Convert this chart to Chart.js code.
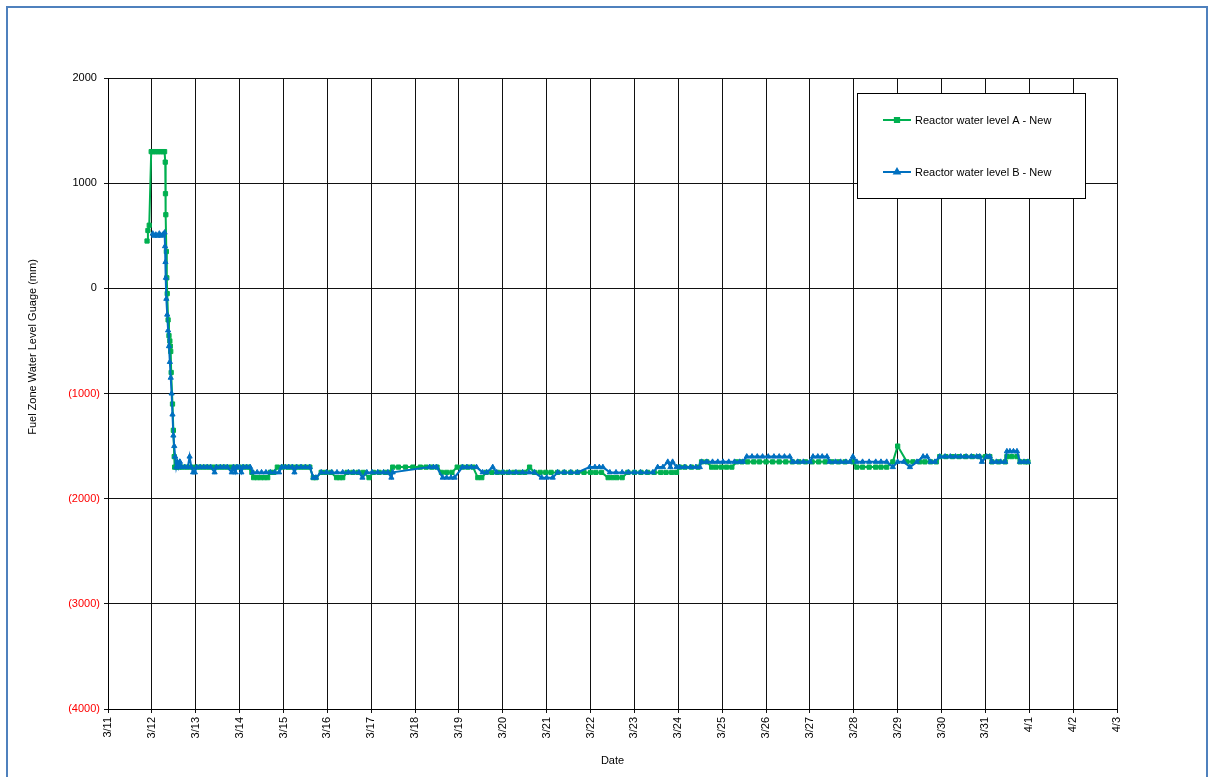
<!DOCTYPE html>
<html>
<head>
<meta charset="utf-8">
<title>Reactor water level</title>
<script src="https://cdn.jsdelivr.net/npm/chart.js@4.4.1/dist/chart.umd.min.js"></script>
<style>
  html, body { margin: 0; padding: 0; background: #fff; overflow: hidden; }
  #wrap { position: relative; width: 1209px; height: 777px; }
  #frame { position: absolute; left: 6px; top: 6px; width: 1198px; height: 820px;
           border: 2px solid #4f81bd; pointer-events: none; }
  canvas { position: absolute; left: 0; top: 0; }
</style>
</head>
<body>
<div id="wrap">
  <canvas id="c" width="1209" height="777"></canvas>
  <div id="frame"></div>
</div>
<script>
// Time is measured in days since 3/11 00:00.
const xTickLabels = ['3/11','3/12','3/13','3/14','3/15','3/16','3/17','3/18','3/19','3/20',
  '3/21','3/22','3/23','3/24','3/25','3/26','3/27','3/28','3/29','3/30','3/31','4/1','4/2','4/3'];
const yTickLabels = ['(4000)','(3000)','(2000)','(1000)','0 ','1000 ','2000 '];

const seriesNames = ['Reactor water level A - New', 'Reactor water level B - New'];

const timesA = [
  0.89, 0.91, 0.94, 0.985, 1.02, 1.06, 1.10, 1.14, 1.18, 1.22, 1.26, 1.29, 1.305, 1.31, 1.318,
  1.33, 1.34, 1.35, 1.37, 1.39, 1.41, 1.42, 1.43, 1.44, 1.47, 1.49, 1.51, 1.52,
  1.56, 1.62, 1.70, 1.80, 1.90, 2.00, 2.10, 2.20, 2.30, 2.40, 2.50, 2.60, 2.70, 2.80, 2.90,
  3.00, 3.10, 3.20, 3.28, 3.32, 3.40, 3.48, 3.56, 3.64, 3.70, 3.78, 3.86, 3.98, 4.10, 4.20,
  4.30, 4.40, 4.50, 4.60, 4.68, 4.74, 4.86, 4.96, 5.08, 5.21, 5.28, 5.35, 5.45, 5.58, 5.70,
  5.82, 5.95, 6.05, 6.18, 6.32, 6.42, 6.49, 6.62, 6.78, 6.95, 7.12, 7.25, 7.38, 7.50, 7.60,
  7.72, 7.84, 7.96, 8.08, 8.20, 8.32, 8.43, 8.52, 8.62, 8.75, 8.88, 9.00, 9.12, 9.25, 9.38,
  9.50, 9.61, 9.72, 9.85, 9.98, 10.10, 10.25, 10.40, 10.55, 10.70, 10.85, 11.00, 11.12, 11.25,
  11.40, 11.50, 11.60, 11.72, 11.85, 12.00, 12.15, 12.30, 12.45, 12.60, 12.72, 12.85, 12.96,
  13.03, 13.15, 13.30, 13.45, 13.53, 13.65, 13.76, 13.86, 13.98, 14.10, 14.22, 14.33, 14.45,
  14.58, 14.72, 14.85, 15.00, 15.15, 15.30, 15.45, 15.60, 15.75, 15.90, 16.05, 16.20, 16.35,
  16.50, 16.65, 16.80, 16.98, 17.07, 17.20, 17.35, 17.50, 17.62, 17.75, 17.89, 18.00, 18.21,
  18.35, 18.50, 18.62, 18.75, 18.88, 18.96, 19.10, 19.25, 19.40, 19.55, 19.70, 19.85, 20.00,
  20.10, 20.15, 20.30, 20.45, 20.49, 20.60, 20.72, 20.79, 20.90, 20.97
];
const levelA = [
  450, 550, 600, 1300, 1300, 1300, 1300, 1300, 1300, 1300, 1300, 1300, 1200, 900, 700,
  350, 100, -50, -300, -450, -500, -550, -600, -800, -1100, -1350, -1600, -1700,
  -1700, -1700, -1700, -1700, -1700, -1700, -1700, -1700, -1700, -1700, -1700, -1700, -1700, -1700, -1700,
  -1700, -1700, -1700, -1750, -1800, -1800, -1800, -1800, -1800, -1750, -1750, -1700, -1700, -1700, -1700,
  -1700, -1700, -1700, -1700, -1800, -1800, -1750, -1750, -1750, -1800, -1800, -1800, -1750, -1750, -1750,
  -1750, -1800, -1750, -1750, -1750, -1750, -1700, -1700, -1700, -1700, -1700, -1700, -1700, -1700, -1750,
  -1750, -1750, -1700, -1700, -1700, -1700, -1800, -1800, -1750, -1750, -1750, -1750, -1750, -1750, -1750,
  -1750, -1700, -1750, -1750, -1750, -1750, -1750, -1750, -1750, -1750, -1750, -1750, -1750, -1750,
  -1800, -1800, -1800, -1800, -1750, -1750, -1750, -1750, -1750, -1750, -1750, -1750, -1750,
  -1700, -1700, -1700, -1700, -1650, -1650, -1700, -1700, -1700, -1700, -1700, -1650, -1650,
  -1650, -1650, -1650, -1650, -1650, -1650, -1650, -1650, -1650, -1650, -1650, -1650, -1650,
  -1650, -1650, -1650, -1650, -1700, -1700, -1700, -1700, -1700, -1700, -1650, -1500, -1650,
  -1650, -1650, -1650, -1650, -1650, -1600, -1600, -1600, -1600, -1600, -1600, -1600, -1600,
  -1600, -1650, -1650, -1650, -1600, -1600, -1600, -1650, -1650, -1650
];

const timesB = [
  1.02, 1.05, 1.09, 1.13, 1.17, 1.21, 1.25, 1.29, 1.30, 1.31, 1.32, 1.33, 1.35, 1.37, 1.39,
  1.41, 1.43, 1.45, 1.47, 1.49, 1.51, 1.53, 1.555, 1.58, 1.61, 1.64, 1.68, 1.75, 1.82, 1.86,
  1.90, 1.94, 1.98, 2.02, 2.10, 2.18, 2.26, 2.34, 2.43, 2.47, 2.56, 2.64, 2.72, 2.82, 2.86,
  2.90, 2.94, 3.00, 3.04, 3.08, 3.16, 3.24, 3.30, 3.40, 3.50, 3.60, 3.70, 3.80, 3.90, 3.96,
  4.04, 4.12, 4.20, 4.25, 4.30, 4.40, 4.50, 4.60, 4.68, 4.74, 4.86, 4.98, 5.10, 5.22, 5.35,
  5.48, 5.60, 5.72, 5.80, 5.90, 6.02, 6.15, 6.28, 6.38, 6.46, 6.49, 7.33, 7.42, 7.49, 7.63,
  7.72, 7.82, 7.90, 8.08, 8.18, 8.28, 8.40, 8.54, 8.63, 8.77, 8.86, 9.00, 9.15, 9.30, 9.45,
  9.60, 9.72, 9.886, 10.00, 10.137, 10.25, 10.40, 10.55, 10.70, 10.98, 11.10, 11.20, 11.28,
  11.44, 11.58, 11.72, 11.86, 12.00, 12.14, 12.28, 12.42, 12.53, 12.65, 12.76, 12.82, 12.87,
  12.96, 13.03, 13.15, 13.28, 13.40, 13.49, 13.53, 13.65, 13.78, 13.90, 14.02, 14.15, 14.28,
  14.40, 14.47, 14.56, 14.68, 14.80, 14.92, 15.05, 15.18, 15.30, 15.42, 15.54, 15.61, 15.72,
  15.85, 16.00, 16.07, 16.18, 16.28, 16.39, 16.45, 16.58, 16.70, 16.82, 16.91, 16.98, 17.07,
  17.20, 17.35, 17.50, 17.62, 17.75, 17.89, 18.00, 18.14, 18.28, 18.44, 18.58, 18.67, 18.75,
  18.85, 18.96, 19.08, 19.20, 19.32, 19.44, 19.56, 19.68, 19.80, 19.87, 19.92, 20.03, 20.10,
  20.15, 20.25, 20.35, 20.45, 20.49, 20.56, 20.64, 20.72, 20.79, 20.88, 20.97
];
const levelB = [
  520, 500, 510, 500, 520, 500, 510, 530, 400, 250, 100, -100, -250, -400, -550,
  -700, -850, -1000, -1200, -1400, -1500, -1600, -1700, -1650, -1700, -1650, -1700, -1700, -1700, -1600,
  -1700, -1750, -1750, -1700, -1700, -1700, -1700, -1700, -1750, -1700, -1700, -1700, -1700, -1750, -1700,
  -1750, -1700, -1700, -1750, -1700, -1700, -1700, -1750, -1750, -1750, -1750, -1750, -1750, -1750, -1700,
  -1700, -1700, -1700, -1750, -1700, -1700, -1700, -1700, -1800, -1800, -1750, -1750, -1750, -1750, -1750,
  -1750, -1750, -1750, -1800, -1750, -1750, -1750, -1750, -1750, -1800, -1750, -1700, -1700, -1700, -1800,
  -1800, -1800, -1800, -1700, -1700, -1700, -1700, -1750, -1750, -1700, -1750, -1750, -1750, -1750, -1750,
  -1750, -1750, -1800, -1800, -1800, -1750, -1750, -1750, -1750, -1700, -1700, -1700, -1700,
  -1750, -1750, -1750, -1750, -1750, -1750, -1750, -1750, -1700, -1700, -1650, -1700, -1650,
  -1700, -1700, -1700, -1700, -1700, -1700, -1650, -1650, -1650, -1650, -1650, -1650, -1650,
  -1650, -1650, -1600, -1600, -1600, -1600, -1600, -1600, -1600, -1600, -1600, -1650, -1650,
  -1650, -1650, -1600, -1600, -1600, -1600, -1650, -1650, -1650, -1650, -1650, -1600, -1650,
  -1650, -1650, -1650, -1650, -1650, -1700, -1650, -1650, -1700, -1650, -1600, -1600, -1650,
  -1650, -1600, -1600, -1600, -1600, -1600, -1600, -1600, -1600, -1600, -1650, -1600, -1600,
  -1650, -1650, -1650, -1650, -1550, -1550, -1550, -1550, -1650, -1650, -1650
];

const GREEN = '#00b050';
const BLUE = '#0070c0';
const FONT = { family: '"Liberation Sans", Arial, sans-serif', size: 11 };
const Y_TITLE = 'Fuel Zone Water Level Guage (mm)';

function toPoints(times, levels) {
  return times.map((t, i) => ({ x: t, y: levels[i] }));
}

// Boxed legend in the upper right, and the vertical axis caption.
const decorations = {
  id: 'decorations',
  afterDraw(chart) {
    const ctx = chart.ctx;
    ctx.save();

    // axis caption
    ctx.font = `${FONT.size}px ${FONT.family}`;
    ctx.fillStyle = '#000';
    ctx.translate(33, 347);
    ctx.rotate(-Math.PI / 2);
    ctx.textAlign = 'center';
    ctx.textBaseline = 'middle';
    ctx.fillText(Y_TITLE, 0, 0);
    ctx.setTransform(1, 0, 0, 1, 0, 0);

    // legend box
    const bx = 857.5, by = 93.5, bw = 228, bh = 105;
    ctx.fillStyle = '#fff';
    ctx.fillRect(bx, by, bw, bh);
    ctx.strokeStyle = '#000';
    ctx.lineWidth = 1;
    ctx.strokeRect(bx, by, bw, bh);

    const rows = [120, 172];
    chart.data.datasets.forEach((ds, i) => {
      const y = rows[i];
      ctx.strokeStyle = ds.borderColor;
      ctx.fillStyle = ds.borderColor;
      ctx.lineWidth = 2;
      ctx.beginPath();
      ctx.moveTo(883, y);
      ctx.lineTo(911, y);
      ctx.stroke();
      Chart.helpers.drawPoint(ctx, {
        pointStyle: ds.pointStyle, radius: ds.pointRadius, rotation: 0, borderWidth: 1
      }, 897, y);
      ctx.fillStyle = '#000';
      ctx.textAlign = 'left';
      ctx.textBaseline = 'middle';
      ctx.font = `${FONT.size}px ${FONT.family}`;
      ctx.fillText(ds.label, 915, y + 1);
    });
    ctx.restore();
  }
};

new Chart(document.getElementById('c'), {
  type: 'line',
  data: {
    datasets: [
      {
        label: seriesNames[0],
        data: toPoints(timesA, levelA),
        borderColor: GREEN, backgroundColor: GREEN,
        borderWidth: 2, pointStyle: 'rect', pointRadius: 3,
        pointBorderWidth: 1, tension: 0, order: 2
      },
      {
        label: seriesNames[1],
        data: toPoints(timesB, levelB),
        borderColor: BLUE, backgroundColor: BLUE,
        borderWidth: 2, pointStyle: 'triangle', pointRadius: 3,
        pointBorderWidth: 1, tension: 0, order: 1
      }
    ]
  },
  options: {
    responsive: false,
    animation: false,
    layout: { padding: { left: 0, right: 92, top: 78, bottom: 0 } },
    plugins: { legend: { display: false }, tooltip: { enabled: false } },
    scales: {
      x: {
        type: 'linear', min: 0, max: xTickLabels.length - 1,
        afterFit(scale) { scale.height = 68; },
        ticks: {
          stepSize: 1, autoSkip: false, maxRotation: 90, minRotation: 90,
          padding: 4, color: '#000', font: FONT,
          callback: v => xTickLabels[v]
        },
        grid: { color: '#111', lineWidth: 1, tickLength: 4 },
        border: { color: '#000', width: 1 },
        title: { display: true, text: 'Date', color: '#000', font: FONT,
                 padding: { top: 0, bottom: 9 } }
      },
      y: {
        min: -4000, max: 2000,
        afterFit(scale) { scale.width = 108; },
        ticks: {
          stepSize: 1000, padding: 4, font: FONT,
          color: c => (c.tick && c.tick.value < 0) ? '#ff0000' : '#000',
          callback: v => yTickLabels[Math.round((v + 4000) / 1000)]
        },
        grid: { color: '#111', lineWidth: 1, tickLength: 4 },
        border: { color: '#000', width: 1 }
      }
    }
  },
  plugins: [decorations]
});
</script>
</body>
</html>
